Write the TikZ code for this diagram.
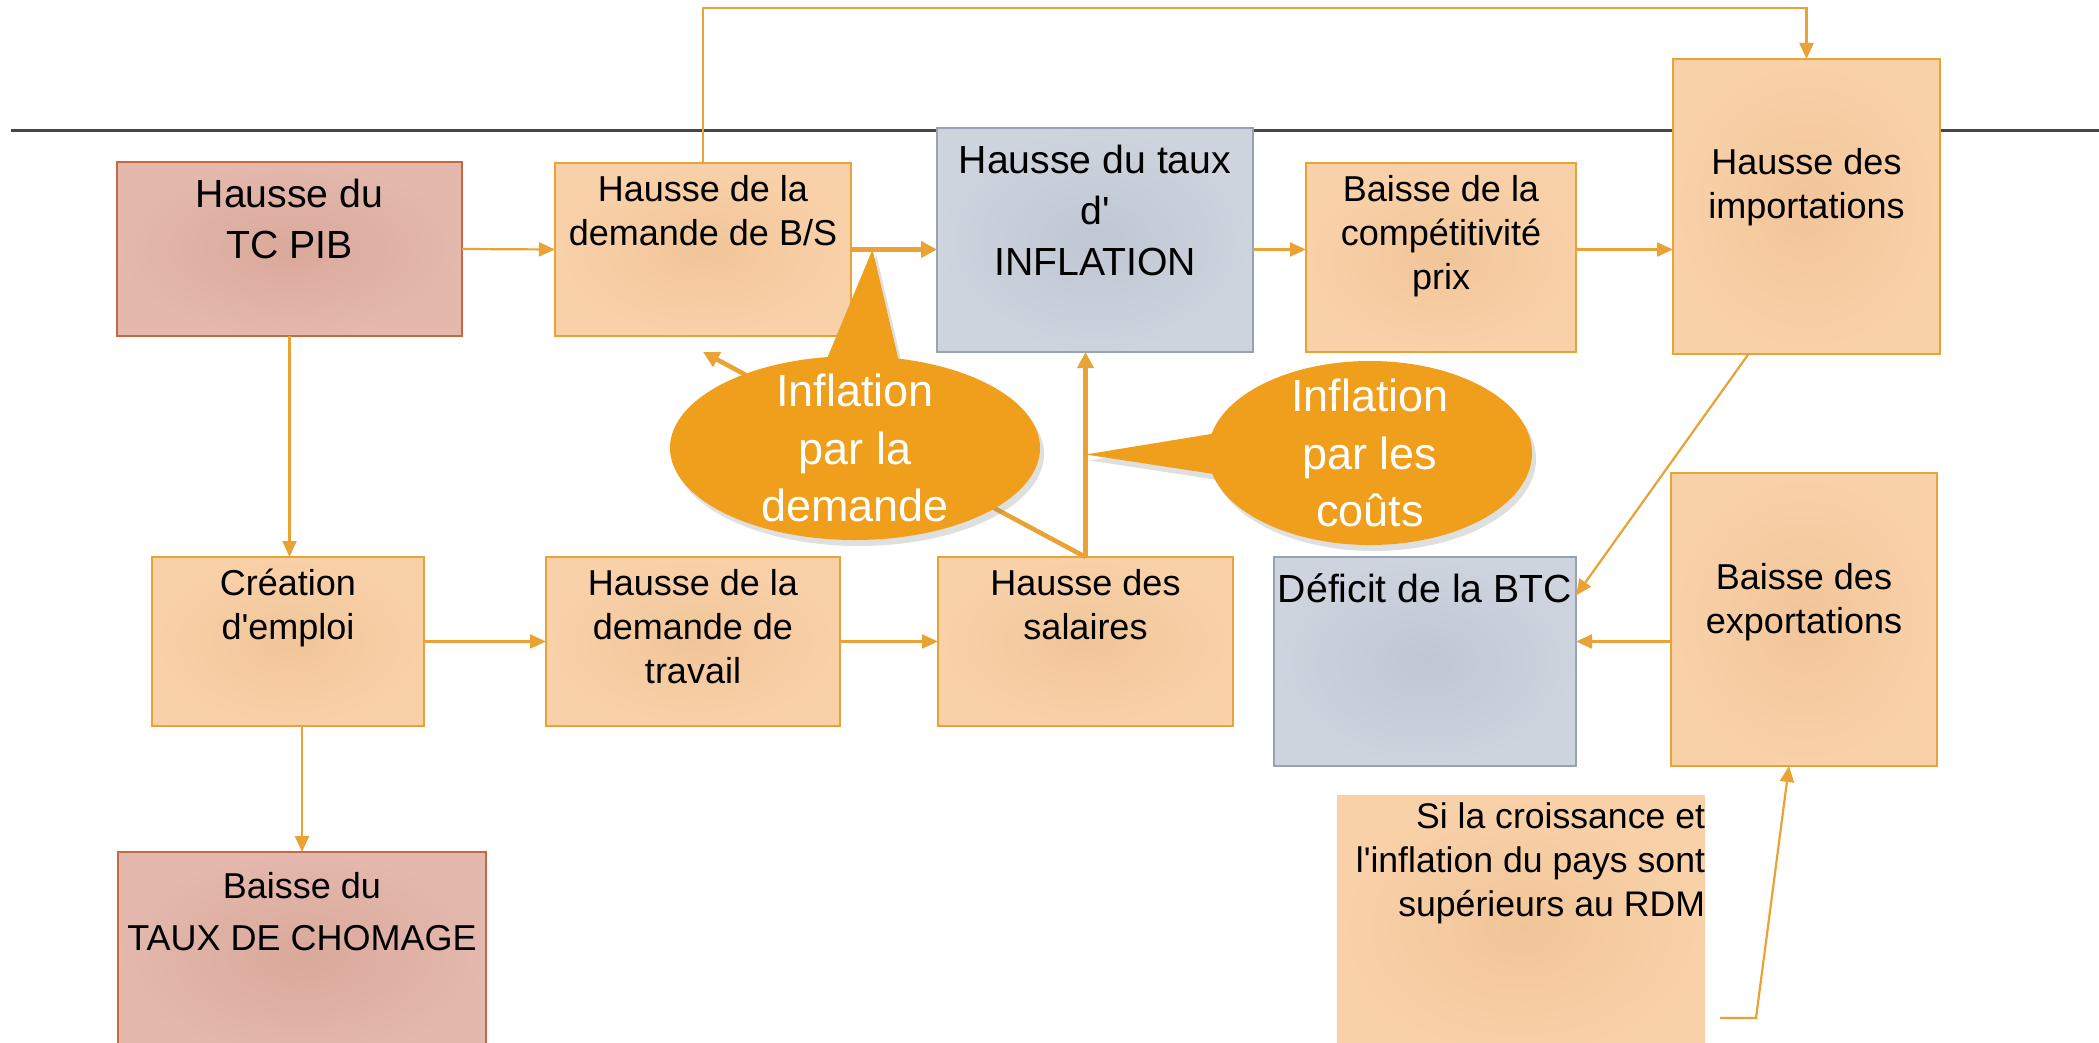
\documentclass[tikz,border=0pt]{standalone}
\usepackage{fontspec}
\setmainfont{Liberation Sans}
\newfontfamily\diagfont{Liberation Sans}
\usetikzlibrary{arrows.meta, calc, shapes.callouts, shadows}

\definecolor{orangeline}{HTML}{E9A234}
\definecolor{peachin}{HTML}{F1C599}
\definecolor{peachout}{HTML}{F9D1A9}
\definecolor{pinkline}{HTML}{C46A42}
\definecolor{pinkin}{HTML}{D9A99B}
\definecolor{pinkout}{HTML}{E4B8AD}
\definecolor{greyline}{HTML}{97A3B5}
\definecolor{greyin}{HTML}{BFC7D2}
\definecolor{greyout}{HTML}{CDD4DE}
\definecolor{bubbleorange}{HTML}{EF9F1C}
\definecolor{ruleline}{HTML}{474747}

\begin{document}
\begin{tikzpicture}[x=0.5pt, y=-0.5pt,
        every node/.style={inner sep=0pt, outer sep=0pt},
        boxtxt/.style n args={3}{
            minimum width=#1,
            minimum height=#2,
            execute at begin node={\begin{minipage}[t][#2][t]{#1}\centering\vspace*{#3}\strut},
            execute at end node={\end{minipage}}
        },
        notetxt/.style n args={3}{
            minimum width=#1,
            minimum height=#2,
            execute at begin node={\begin{minipage}[t][#2][t]{#1}\raggedleft\vspace*{#3}\strut},
            execute at end node={\end{minipage}}
        },
        mainbox/.style={
            rectangle,
            draw=pinkline,
            line width=1.2pt,
            inner color=pinkin,
            outer color=pinkout,
            font={\diagfont\fontsize{19.6}{25.5}\selectfont}
        },
        stepbox/.style={
            rectangle,
            draw=orangeline,
            line width=1.2pt,
            inner color=peachin,
            outer color=peachout,
            font={\diagfont\fontsize{18}{22}\selectfont}
        },
        keybox/.style={
            rectangle,
            draw=greyline,
            line width=1.2pt,
            inner color=greyin,
            outer color=greyout,
            font={\diagfont\fontsize{19.6}{25.5}\selectfont}
        },
        notebox/.style={
            rectangle,
            inner color=peachin,
            outer color=peachout,
            font={\diagfont\fontsize{17.8}{22}\selectfont}
        },
        bubble/.style={
            ellipse callout,
            fill=bubbleorange,
            inner sep=-6pt,
            align=center,
            text=white,
            font={\diagfont\fontsize{22.5}{28.75}\selectfont},
            drop shadow={shadow xshift=2pt, shadow yshift=-3pt, opacity=0.25}
        },
        arr/.style={draw=orangeline, line width=1.1pt, -{Triangle[length=8pt, width=7pt]}},
        thickarr/.style={draw=orangeline, line width=2.3pt, -{Triangle[length=8pt, width=8pt]}},
        rule/.style={draw=ruleline, line width=1.5pt}
    ]

    \useasboundingbox (0,0) rectangle (2099,1043);

    % Title rule
    \draw[rule] (11,131) -- (2099,131);

    % Top row
    \node[mainbox, boxtxt={172.5pt}{87pt}{4.9pt}] (tcpib) at (289.5,249) {Hausse du\\TC PIB};
    \node[stepbox, boxtxt={148pt}{86.5pt}{4pt}] (bs) at (703,249.5) {Hausse de la\\demande de B/S};
    \node[keybox, boxtxt={158pt}{112pt}{4.9pt}] (infl) at (1095,240) {Hausse du taux\\d'\\INFLATION};
    \node[stepbox, boxtxt={135pt}{94.5pt}{4pt}] (compet) at (1441,257.5) {Baisse de la\\compétitivité\\prix};
    \node[stepbox, boxtxt={133.5pt}{147.5pt}{42.5pt}] (imp) at (1806.5,206.5) {Hausse des\\importations};

    % Middle row
    \node[stepbox, boxtxt={136pt}{84.5pt}{3.6pt}] (creation) at (288,641.5) {Création\\d'emploi};
    \node[stepbox, boxtxt={147pt}{84.5pt}{3.6pt}] (travail) at (693,641.5) {Hausse de la\\demande de\\travail};
    \node[stepbox, boxtxt={147.5pt}{84.5pt}{3.6pt}] (sal) at (1085.5,641.5) {Hausse des\\salaires};
    \node[keybox, boxtxt={151pt}{104.5pt}{4.9pt}] (btc) at (1425,661.5) {Déficit de la BTC};
    \node[stepbox, boxtxt={133pt}{146.5pt}{43pt}] (exp) at (1804,619.5) {Baisse des\\exportations};

    % Bottom row
    \node[mainbox, font={\diagfont\fontsize{18}{26}\selectfont}, boxtxt={184pt}{104pt}{4.8pt}] (chomage) at (302,956) {Baisse du\\TAUX DE CHOMAGE};
    \node[notebox, notetxt={184pt}{132.5pt}{1.2pt}] (note) at (1521,927.5)
        {Si la croissance et\\l'inflation du pays sont\\supérieurs au RDM};

    % Connectors
    \draw[arr] (tcpib.east) -- (bs.west);
    \draw[thickarr] (bs.east) -- (bs.east -| infl.west);
    \draw[arr] (infl.east |- bs.east) -- (compet.west |- bs.east);
    \draw[arr] (compet.east |- bs.east) -- (imp.west |- bs.east);
    \draw[arr] (bs.north) -- ++(0,-155) -| (imp.north);
    \draw[arr] (tcpib.south) -- (tcpib.south |- creation.north);
    \draw[arr] (chomage.north |- creation.south) -- (chomage.north);
    \draw[arr] (creation.east) -- (travail.west);
    \draw[arr] (travail.east) -- (sal.west);
    \draw[thickarr] (sal.north) -- (sal.north |- infl.south);
    \draw[thickarr] (sal.north) -- ([yshift=-8pt]bs.south);
    \draw[arr] ([xshift=-29pt]imp.south) -- ([yshift=33pt]btc.east);
    \draw[arr] (exp.west |- sal.east) -- (btc.east |- sal.east);
    \coordinate (notefoot) at (1720,1018);
    \draw[arr] (notefoot) -- ++(36,0) -- ([xshift=-7.5pt]exp.south);

    % Callouts
    \coordinate (demtip) at ($(bs.east)!0.25!(bs.east -| infl.west)$);
    \coordinate (couttip) at ($(sal.north)!0.5!(sal.north |- infl.south)$);
    \node[bubble, minimum width=185pt, minimum height=92pt,
        callout absolute pointer={(demtip)}, callout pointer arc=22] (bubdem) at (855,448)
        {Inflation\\par la\\demande};
    \node[bubble, minimum width=162pt, minimum height=92pt,
        callout absolute pointer={(couttip)}, callout pointer arc=25] (bubcout) at (1370,453)
        {Inflation\\par les\\coûts};

\end{tikzpicture}
\end{document}
